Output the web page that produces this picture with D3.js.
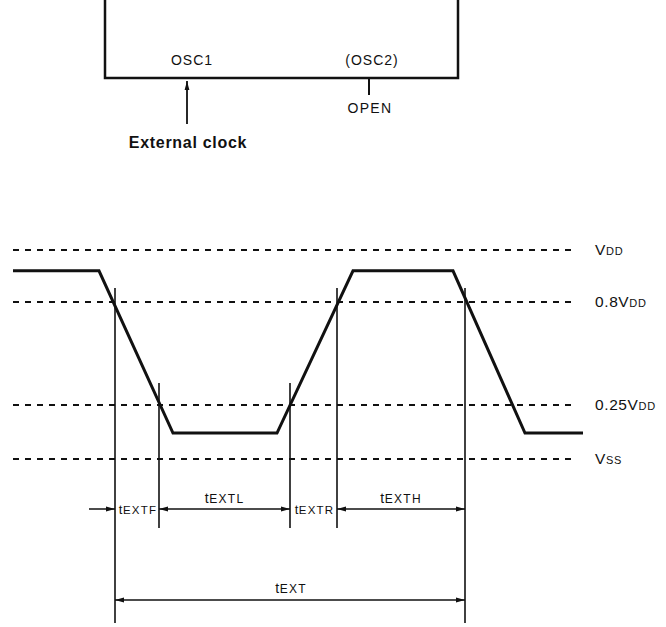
<!DOCTYPE html>
<html>
<head>
<meta charset="utf-8">
<script src="https://cdn.jsdelivr.net/npm/d3@7"></script>
<style>
  body { margin: 0; background: #fff; }
  svg { display: block; }
  text { font-family: "Liberation Sans", Arial, sans-serif; fill: #111; }
</style>
</head>
<body>
<div id="chart"></div>
<script>
// threshold levels (fraction of VDD) and their labels
var levelValues = [1, 0.8, 0.25, 0];
var levelMain = ["V", "0.8V", "0.25V", "V"];
var levelSub = ["DD", "DD", "DD", "SS"];

// clock waveform: time units vs fraction of VDD
var waveTime = [0, 86, 160, 264, 340, 440, 512, 570];
var waveLevel = [0.92, 0.92, 0.12, 0.12, 0.92, 0.92, 0.12, 0.12];

// measuring points (time, level that is crossed)
var markTime = [102, 146, 277, 324, 452];
var markLevel = [0.8, 0.25, 0.25, 0.8, 0.8];
var markLong = [true, false, false, false, true];

// intervals between successive measuring points
var spanSub = ["EXTF", "EXTL", "EXTR", "EXTH"];
var spanInline = [true, false, true, false];
var totalSub = "EXT";

// pins on the chip outline
var pinNames = ["OSC1", "(OSC2)"];
var pinNotes = ["External clock", "OPEN"];

var width = 666, height = 627;

var svg = d3.select("#chart").append("svg")
    .attr("width", width)
    .attr("height", height);

var defs = svg.append("defs");
defs.append("marker")
    .attr("id", "arr")
    .attr("markerUnits", "userSpaceOnUse")
    .attr("viewBox", "0 0 9 6")
    .attr("markerWidth", 9)
    .attr("markerHeight", 6)
    .attr("refX", 9)
    .attr("refY", 3)
    .attr("orient", "auto-start-reverse")
  .append("path")
    .attr("d", "M0,0.6L9,3L0,5.4Z")
    .attr("fill", "#111");

// scales
var x = d3.scaleLinear().domain([0, 570]).range([13, 583]);
var y = d3.scaleLinear().domain([0, 0.25, 0.8, 1]).range([459, 405, 302, 250]);

// helper: main text + smaller suffix on the same baseline
function label(g, main, sub, mainSize, subSize, anchor, spacing) {
  var t = g.append("text")
      .attr("text-anchor", anchor || "start");
  t.append("tspan").attr("font-size", mainSize).attr("letter-spacing", 0.6).text(main);
  t.append("tspan").attr("font-size", subSize).attr("letter-spacing", spacing || 1).text(sub);
  return t;
}

// ---- chip outline and pins ----
var pin = d3.scalePoint().domain(pinNames).range([192, 372]);

svg.append("path")
    .attr("d", "M105,0V78H458V0")
    .attr("fill", "none")
    .attr("stroke", "#111")
    .attr("stroke-width", 2.5);

svg.selectAll(".pin")
    .data(pinNames)
  .enter().append("text")
    .attr("class", "pin")
    .attr("x", function(d) { return pin(d); })
    .attr("y", 65)
    .attr("text-anchor", "middle")
    .attr("font-size", 14)
    .attr("letter-spacing", 1)
    .text(function(d) { return d; });

// external clock arrow into OSC1
svg.append("line")
    .attr("x1", pin(pinNames[0]) - 5).attr("x2", pin(pinNames[0]) - 5)
    .attr("y1", 124).attr("y2", 81)
    .attr("stroke", "#111")
    .attr("stroke-width", 1.8)
    .attr("marker-end", "url(#arr)");

svg.append("text")
    .attr("x", pin(pinNames[0]) - 4)
    .attr("y", 148)
    .attr("text-anchor", "middle")
    .attr("font-size", 16)
    .attr("font-weight", "bold")
    .attr("letter-spacing", 0.7)
    .text(pinNotes[0]);

// OSC2 left open
svg.append("line")
    .attr("x1", pin(pinNames[1]) - 3).attr("x2", pin(pinNames[1]) - 3)
    .attr("y1", 78).attr("y2", 95)
    .attr("stroke", "#111")
    .attr("stroke-width", 2);

svg.append("text")
    .attr("x", pin(pinNames[1]) - 2)
    .attr("y", 113)
    .attr("text-anchor", "middle")
    .attr("font-size", 14)
    .attr("letter-spacing", 1.3)
    .text(pinNotes[1]);

// ---- reference levels ----
svg.selectAll(".level")
    .data(levelValues)
  .enter().append("line")
    .attr("class", "level")
    .attr("x1", 13)
    .attr("x2", 575)
    .attr("y1", function(d) { return y(d); })
    .attr("y2", function(d) { return y(d); })
    .attr("stroke", "#111")
    .attr("stroke-width", 1.8)
    .attr("stroke-dasharray", "6,6");

levelValues.forEach(function(v, i) {
  label(svg, levelMain[i], levelSub[i], 15.5, 11, "start", 0.8)
      .attr("x", 595)
      .attr("y", y(v) + 5);
});

// ---- waveform ----
var wave = waveTime.map(function(t, i) { return [t, waveLevel[i]]; });

svg.append("path")
    .datum(wave)
    .attr("fill", "none")
    .attr("stroke", "#111")
    .attr("stroke-width", 3)
    .attr("stroke-linejoin", "miter")
    .attr("d", d3.line()
        .x(function(d) { return x(d[0]); })
        .y(function(d) { return y(d[1]); }));

// ---- measuring verticals ----
var row1 = 509, row2 = 600;

svg.selectAll(".mark")
    .data(markTime)
  .enter().append("line")
    .attr("class", "mark")
    .attr("x1", function(d) { return x(d); })
    .attr("x2", function(d) { return x(d); })
    .attr("y1", function(d, i) { return y(markLevel[i]) - (markLevel[i] > 0.5 ? 14 : 22); })
    .attr("y2", function(d, i) { return markLong[i] ? 623 : 528; })
    .attr("stroke", "#111")
    .attr("stroke-width", 1.6);

// lead-in arrow for the fall time
svg.append("line")
    .attr("x1", x(markTime[0]) - 26)
    .attr("x2", x(markTime[0]))
    .attr("y1", row1).attr("y2", row1)
    .attr("stroke", "#111")
    .attr("stroke-width", 1.5)
    .attr("marker-end", "url(#arr)");

spanSub.forEach(function(s, i) {
  var a = x(markTime[i]), b = x(markTime[i + 1]);
  if (spanInline[i]) {
    label(svg, "t", s, 13, 11.5, "middle", 1.2)
        .attr("x", (a + b) / 2 + 1)
        .attr("y", row1 + 4.5);
  } else {
    svg.append("line")
        .attr("x1", a).attr("x2", b)
        .attr("y1", row1).attr("y2", row1)
        .attr("stroke", "#111")
        .attr("stroke-width", 1.5)
        .attr("marker-start", "url(#arr)")
        .attr("marker-end", "url(#arr)");
    label(svg, "t", s, 14, 12, "middle", 1.3)
        .attr("x", (a + b) / 2)
        .attr("y", row1 - 6);
  }
});

// overall period
var p0 = x(markTime[0]), p1 = x(markTime[markTime.length - 1]);
svg.append("line")
    .attr("x1", p0).attr("x2", p1)
    .attr("y1", row2).attr("y2", row2)
    .attr("stroke", "#111")
    .attr("stroke-width", 1.5)
    .attr("marker-start", "url(#arr)")
    .attr("marker-end", "url(#arr)");

label(svg, "t", totalSub, 14, 12, "middle", 1.3)
    .attr("x", (p0 + p1) / 2 + 1)
    .attr("y", row2 - 7);
</script>
</body>
</html>
